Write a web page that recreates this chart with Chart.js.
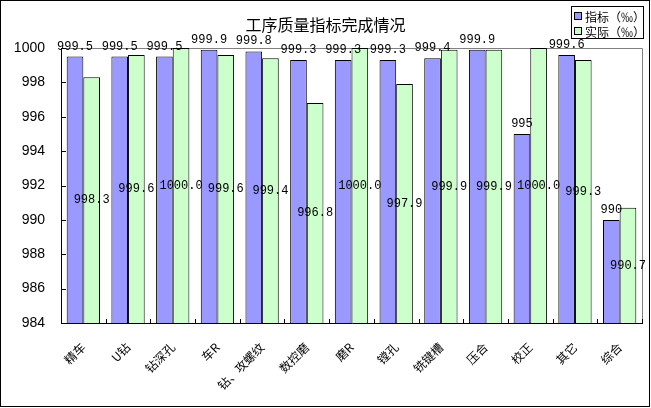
<!DOCTYPE html>
<html>
<head>
<meta charset="utf-8">
<script src="https://cdn.jsdelivr.net/npm/chart.js@4.4.1/dist/chart.umd.min.js"></script>
<style>
  html, body { margin: 0; padding: 0; background: #ffffff; }
  #wrap { width: 651px; height: 408px; position: relative; }
  canvas { display: block; }
</style>
</head>
<body>
<div id="wrap"><canvas id="c" width="651" height="408"></canvas></div>
<script>
const categories = ['精车', 'U钻', '钻深孔', '车R', '钻、攻螺纹', '数控磨', '磨R', '镗孔', '铣键槽', '压合', '校正', '其它', '综合'];
const targetValues = [999.5, 999.5, 999.5, 999.9, 999.8, 999.3, 999.3, 999.3, 999.4, 999.9, 995, 999.6, 990];
const actualValues = [998.3, 999.6, 1000.0, 999.6, 999.4, 996.8, 1000.0, 997.9, 999.9, 999.9, 1000.0, 999.3, 990.7];
const seriesNames = ['指标（‰）', '实际（‰）'];
const chartTitle = '工序质量指标完成情况';
const yMin = 984, yMax = 1000, yStep = 2;

const CJK = '"Noto Sans CJK SC", "Noto Sans", sans-serif';
const MONO = '"Liberation Mono", "DejaVu Sans Mono", monospace';

const decorPlugin = {
  id: 'decor',
  beforeDraw(chart) {
    const ctx = chart.ctx;
    ctx.save();
    ctx.fillStyle = '#ffffff';
    ctx.fillRect(0, 0, chart.width, chart.height);
    ctx.restore();
  },
  beforeDatasetsDraw(chart) {
    const ctx = chart.ctx;
    const a = chart.chartArea;
    const xs = chart.scales.x, ys = chart.scales.y;
    ctx.save();
    ctx.lineWidth = 1;
    ctx.strokeStyle = '#808080';
    ctx.beginPath();
    ctx.moveTo(Math.round(a.left) + 0.5, Math.round(a.top) + 0.5);
    ctx.lineTo(Math.round(a.right) + 0.5, Math.round(a.top) + 0.5);
    ctx.lineTo(Math.round(a.right) + 0.5, Math.round(a.bottom) + 0.5);
    ctx.stroke();
    ctx.strokeStyle = '#000000';
    ctx.beginPath();
    ctx.moveTo(Math.round(a.left) + 0.5, Math.round(a.top));
    ctx.lineTo(Math.round(a.left) + 0.5, Math.round(a.bottom) + 0.5);
    ctx.lineTo(Math.round(a.right) + 1, Math.round(a.bottom) + 0.5);
    for (let i = 0; i <= categories.length; i++) {
      const px = Math.round(xs.getPixelForValue(i - 0.5)) + 0.5;
      ctx.moveTo(px, Math.round(a.bottom));
      ctx.lineTo(px, Math.round(a.bottom) - 4);
    }
    ys.ticks.forEach(t => {
      const py = Math.round(ys.getPixelForValue(t.value)) + 0.5;
      ctx.moveTo(Math.round(a.left), py);
      ctx.lineTo(Math.round(a.left) + 5, py);
    });
    ctx.stroke();
    ctx.restore();
  },
  afterDatasetsDraw(chart) {
    const ctx = chart.ctx;
    const ys = chart.scales.y;
    const basePx = ys.getPixelForValue(yMin);
    ctx.save();
    ctx.fillStyle = '#000000';
    ctx.font = '12px ' + MONO;
    ctx.textAlign = 'center';
    const m0 = chart.getDatasetMeta(0);
    m0.data.forEach((bar, i) => {
      ctx.textBaseline = 'alphabetic';
      ctx.fillText(String(targetValues[i]), bar.x, ys.getPixelForValue(targetValues[i]) - 7);
    });
    const m1 = chart.getDatasetMeta(1);
    m1.data.forEach((bar, i) => {
      ctx.textBaseline = 'middle';
      const top = ys.getPixelForValue(actualValues[i]);
      ctx.fillText(actualValues[i].toFixed(1), bar.x, (top + basePx) / 2);
    });
    ctx.restore();
  },
  afterDraw(chart) {
    const ctx = chart.ctx;
    ctx.save();
    ctx.fillStyle = '#000000';
    ctx.font = '16px ' + CJK;
    ctx.textAlign = 'center';
    ctx.textBaseline = 'middle';
    ctx.fillText(chartTitle, chart.width / 2, 25);
    const lx = 571, ly = 6, lw = 72, lh = 32;
    ctx.fillStyle = '#ffffff';
    ctx.fillRect(lx, ly, lw, lh);
    ctx.strokeStyle = '#000000';
    ctx.lineWidth = 1;
    ctx.strokeRect(lx + 0.5, ly + 0.5, lw, lh);
    ctx.font = '12px ' + CJK;
    ctx.textAlign = 'left';
    chart.data.datasets.forEach((ds, i) => {
      const cy = ly + 10 + i * 15;
      ctx.fillStyle = ds.backgroundColor;
      ctx.fillRect(lx + 3.5, cy - 3.5, 7, 7);
      ctx.strokeStyle = '#000000';
      ctx.strokeRect(lx + 3.5, cy - 3.5, 7, 7);
      ctx.fillStyle = '#000000';
      ctx.fillText(ds.label, lx + 14, cy + 1);
    });
    ctx.strokeStyle = '#000000';
    ctx.strokeRect(0.5, 0.5, chart.width - 2, chart.height - 2);
    ctx.restore();
  }
};

new Chart(document.getElementById('c'), {
  type: 'bar',
  data: {
    labels: categories,
    datasets: [
      { label: seriesNames[0], data: targetValues, backgroundColor: '#9999ff', borderColor: '#000000', borderWidth: 1, borderSkipped: 'bottom' },
      { label: seriesNames[1], data: actualValues, backgroundColor: '#ccffcc', borderColor: '#000000', borderWidth: 1, borderSkipped: 'bottom' }
    ]
  },
  options: {
    responsive: false,
    animation: false,
    devicePixelRatio: 1,
    layout: { padding: { top: 48, right: 9, left: 0, bottom: 0 } },
    plugins: { legend: { display: false }, title: { display: false }, tooltip: { enabled: false } },
    datasets: { bar: { categoryPercentage: 0.745, barPercentage: 1.0 } },
    scales: {
      x: {
        grid: { display: false },
        border: { display: false },
        ticks: {
          autoSkip: false, minRotation: 45, maxRotation: 45,
          color: '#000000', font: { family: CJK, size: 12 }, padding: 9
        },
        afterFit(scale) { scale.height = 85; }
      },
      y: {
        min: yMin, max: yMax,
        grid: { display: false },
        border: { display: false },
        ticks: {
          stepSize: yStep, color: '#000000',
          font: { family: '"Liberation Sans", Arial, sans-serif', size: 14 }, padding: 8,
          callback: (v) => String(v)
        },
        afterFit(scale) { scale.width = 61; }
      }
    }
  },
  plugins: [decorPlugin]
});
</script>
</body>
</html>
